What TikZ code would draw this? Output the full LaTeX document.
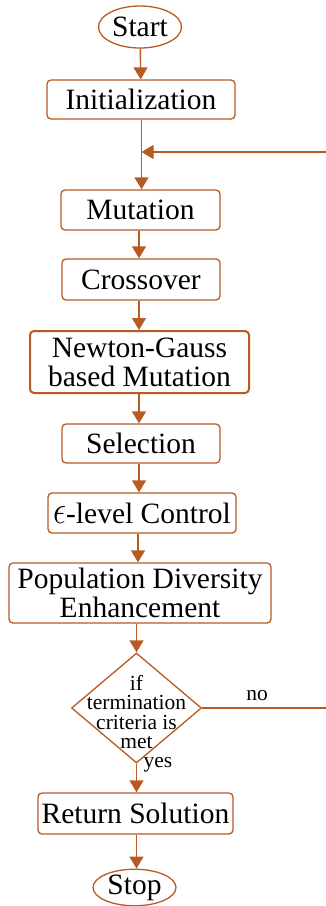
\documentclass[tikz,border=0pt]{standalone}
\usepackage{fontspec}
\usepackage{graphicx}
\setmainfont{Liberation Serif}
\usetikzlibrary{shapes.geometric,arrows.meta}
\definecolor{fc}{RGB}{184,90,35}
\newcommand{\bigtxt}{\fontsize{29.5pt}{29pt}\selectfont}
\newcommand{\smtxt}{\fontsize{21.5pt}{19.5pt}\selectfont}
\newcommand{\bigeps}{\resizebox{13pt}{17pt}{$\epsilon$}}
\tikzset{
  box/.style={draw=fc, line width=1.3pt, rounded corners=4pt, fill=white, inner sep=0pt, align=center, font=\bigtxt},
  term/.style={draw=fc, line width=1.3pt, ellipse, fill=white, inner sep=0pt, font=\bigtxt},
  conn/.style={draw=fc, line width=1.4pt, -{Triangle[width=14pt,length=12pt]}},
  smalltxt/.style={font=\smtxt, align=center, inner sep=0pt}
}
\begin{document}
\begin{tikzpicture}[x=1pt,y=-1pt]
\useasboundingbox (0,0) rectangle (326,906);
\node[term, minimum width=83pt, minimum height=42pt] (start) at (140,27) {Start};
\node[box, minimum width=188pt, minimum height=39pt] (init) at (141,99.5) {Initialization};
\node[box, minimum width=159pt, minimum height=40pt] (mut) at (140.5,210) {Mutation};
\node[box, minimum width=158pt, minimum height=41pt] (cross) at (141,279.5) {Crossover};
\node[box, line width=2pt, minimum width=219pt, minimum height=62pt] (ng) at (139.5,362) {Newton-Gauss\\based Mutation};
\node[box, minimum width=158pt, minimum height=39pt] (sel) at (141,443.5) {Selection};
\node[box, minimum width=188pt, minimum height=40pt] (eps) at (142,513) {\bigeps-level Control};
\node[box, minimum width=262pt, minimum height=60pt] (pop) at (140,593) {Population Diversity\\Enhancement};
\node[diamond, draw=fc, line width=1.3pt, fill=white, minimum width=130pt, minimum height=110pt, inner sep=0pt] (dec) at (136.5,708) {};
\node[smalltxt] (dect) at (136.5,712) {if\\termination\\criteria is\\met};
\node[box, minimum width=195pt, minimum height=41pt] (ret) at (135.5,813.5) {Return Solution};
\node[term, minimum width=83pt, minimum height=35pt] (stop) at (134.5,887.5) {Stop};
\coordinate (join) at (141.5,152);
\coordinate (far) at (346,708);
\node[smalltxt] (no) at (257,696) {no};
\node[smalltxt] (yes) at (158,765) {yes};
\path[conn] (start) -- (init);
\path[conn] (init.south -| join) -- (mut.north -| join);
\path[conn] (mut.south -| 139,0) -- (cross.north -| 139,0);
\path[conn] (cross.south -| 139,0) -- (ng.north -| 139,0);
\path[conn] (ng.south -| 139,0) -- (sel.north -| 139,0);
\path[conn] (sel.south -| 139,0) -- (eps.north -| 139,0);
\path[conn] (eps.south -| 138,0) -- (pop.north -| 138,0);
\path[conn] (pop.south -| dec.north) -- (dec.north);
\path[conn] (dec.south) -- (ret.north -| dec.south);
\path[conn] (ret.south -| dec.south) -- (stop.north -| dec.south);
\path[conn] (dec.east) -- (far) |- (join);
\end{tikzpicture}
\end{document}
